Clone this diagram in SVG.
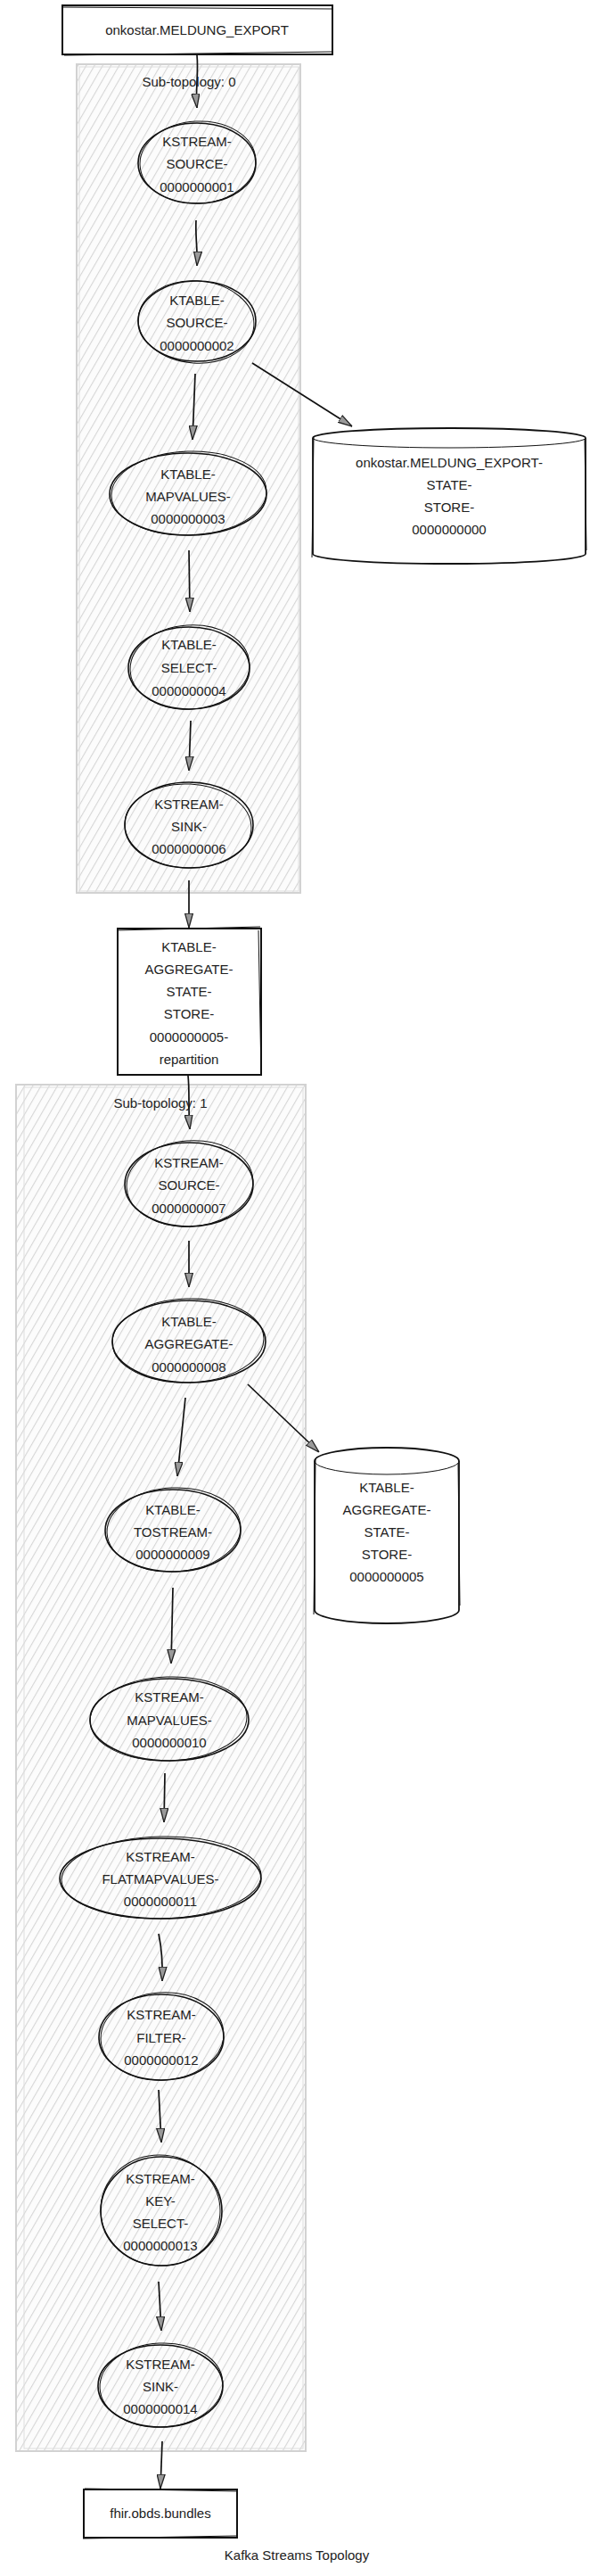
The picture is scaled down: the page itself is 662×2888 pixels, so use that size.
<svg xmlns="http://www.w3.org/2000/svg" width="662" height="2888" viewBox="0 0 662 2888">
<style>
text{font-family:"Liberation Sans",Arial,sans-serif;font-size:15px;fill:#222;text-anchor:middle}
.cl{fill:url(#hach);stroke:#d2d2d2;stroke-width:2}
.cl2{fill:none;stroke:#dedede;stroke-width:1}
.nd{fill:none;stroke:#111;stroke-width:1.6}
.nd2{fill:none;stroke:#111;stroke-width:1}
.box{fill:#fff;stroke:#111;stroke-width:2}
.cyl{fill:#fff;stroke:#111;stroke-width:1.8}
.ed{fill:none;stroke:#111;stroke-width:1.7;marker-end:url(#arr)}
</style>
<defs>
<pattern id="hach" patternUnits="userSpaceOnUse" width="8" height="8" patternTransform="rotate(30)">
<rect width="8" height="8" fill="#fcfcfc"/>
<line x1="0" y1="0" x2="0" y2="8" stroke="#d6d6d6" stroke-width="2.2"/>
</pattern>
<marker id="arr" viewBox="0 0 16 10" refX="16" refY="5" markerWidth="16" markerHeight="10" markerUnits="userSpaceOnUse" orient="auto">
<path d="M0,0.5 L16,5 L0,9.5 Z" fill="#999" stroke="#222" stroke-width="1.3"/>
</marker>
</defs>
<rect width="662" height="2888" fill="#fff"/>

<g id="cluster0">
<rect class="cl" x="86" y="72" width="251" height="929"/>
<rect class="cl2" x="89" y="75" width="246" height="924"/>
<text x="212" y="97">Sub-topology: 0</text>
</g>
<g id="cluster1">
<rect class="cl" x="18" y="1216" width="325" height="1532"/>
<rect class="cl2" x="27" y="1219" width="313" height="1526"/>
<text x="180" y="1242">Sub-topology: 1</text>
</g>

<g id="topic-onkostar-meldung-export">
<rect class="box" x="70" y="6" width="303" height="55"/>
<path class="nd2" d="M69,8 L374,10 M72,62 L372,58"/>
<text x="221" y="39">onkostar.MELDUNG_EXPORT</text>
</g>

<g id="KSTREAM-SOURCE-0000000001">
<ellipse class="nd" cx="221" cy="183" rx="66" ry="45"/>
<ellipse class="nd2" cx="222" cy="182" rx="65" ry="46" transform="rotate(-3 222 182)"/>
<text x="221" y="164">KSTREAM-</text>
<text x="221" y="189">SOURCE-</text>
<text x="221" y="215">0000000001</text>
</g>

<g id="KTABLE-SOURCE-0000000002">
<ellipse class="nd" cx="221" cy="360" rx="66" ry="45"/>
<ellipse class="nd2" cx="220" cy="361" rx="65" ry="46" transform="rotate(4 220 361)"/>
<text x="221" y="342">KTABLE-</text>
<text x="221" y="367">SOURCE-</text>
<text x="221" y="393">0000000002</text>
</g>

<g id="store-onkostar-meldung-export-state-store">
<path class="cyl" d="M351,491 A153,11 0 0 1 657,491 L657,621 A153,11 0 0 1 351,621 Z"/>
<path class="nd2" d="M351,491 A153,11 0 0 0 657,491"/>
<path class="nd2" d="M352,489 L350,625 M656,492 L658,617"/>
<text x="504" y="524">onkostar.MELDUNG_EXPORT-</text>
<text x="504" y="549">STATE-</text>
<text x="504" y="574">STORE-</text>
<text x="504" y="599">0000000000</text>
</g>

<g id="KTABLE-MAPVALUES-0000000003">
<ellipse class="nd" cx="211" cy="554" rx="88" ry="46"/>
<ellipse class="nd2" cx="212" cy="553" rx="87" ry="47" transform="rotate(-2 212 553)"/>
<text x="211" y="537">KTABLE-</text>
<text x="211" y="562">MAPVALUES-</text>
<text x="211" y="587">0000000003</text>
</g>

<g id="KTABLE-SELECT-0000000004">
<ellipse class="nd" cx="212" cy="749" rx="68" ry="46"/>
<ellipse class="nd2" cx="213" cy="748" rx="67" ry="47" transform="rotate(-4 213 748)"/>
<text x="212" y="728">KTABLE-</text>
<text x="212" y="754">SELECT-</text>
<text x="212" y="780">0000000004</text>
</g>

<g id="KSTREAM-SINK-0000000006">
<ellipse class="nd" cx="212" cy="925" rx="72" ry="48"/>
<ellipse class="nd2" cx="211" cy="926" rx="71" ry="47" transform="rotate(3 211 926)"/>
<text x="212" y="907">KSTREAM-</text>
<text x="212" y="932">SINK-</text>
<text x="212" y="957">0000000006</text>
</g>

<g id="topic-ktable-aggregate-state-store-repartition">
<rect class="box" x="132" y="1041" width="161" height="164"/>
<path class="nd2" d="M131,1043 L292,1039 M290,1043 L293,1206"/>
<text x="212" y="1067">KTABLE-</text>
<text x="212" y="1092">AGGREGATE-</text>
<text x="212" y="1117">STATE-</text>
<text x="212" y="1142">STORE-</text>
<text x="212" y="1168">0000000005-</text>
<text x="212" y="1193">repartition</text>
</g>

<g id="KSTREAM-SOURCE-0000000007">
<ellipse class="nd" cx="212" cy="1328" rx="72" ry="47"/>
<ellipse class="nd2" cx="213" cy="1327" rx="71" ry="48" transform="rotate(-4 213 1327)"/>
<text x="212" y="1309">KSTREAM-</text>
<text x="212" y="1334">SOURCE-</text>
<text x="212" y="1360">0000000007</text>
</g>

<g id="KTABLE-AGGREGATE-0000000008">
<ellipse class="nd" cx="212" cy="1504" rx="86" ry="46"/>
<ellipse class="nd2" cx="211" cy="1503" rx="85" ry="47" transform="rotate(-2 211 1503)"/>
<text x="212" y="1487">KTABLE-</text>
<text x="212" y="1512">AGGREGATE-</text>
<text x="212" y="1538">0000000008</text>
</g>

<g id="store-ktable-aggregate-state-store">
<path class="cyl" d="M353,1638 A81,15 0 0 1 515,1638 L515,1805 A81,15 0 0 1 353,1805 Z"/>
<path class="nd2" d="M353,1638 A81,15 0 0 0 515,1638"/>
<path class="nd2" d="M354,1636 L352,1810 M514,1640 L516,1800"/>
<text x="434" y="1673">KTABLE-</text>
<text x="434" y="1698">AGGREGATE-</text>
<text x="434" y="1723">STATE-</text>
<text x="434" y="1748">STORE-</text>
<text x="434" y="1773">0000000005</text>
</g>

<g id="KTABLE-TOSTREAM-0000000009">
<ellipse class="nd" cx="194" cy="1716" rx="76" ry="46"/>
<ellipse class="nd2" cx="195" cy="1715" rx="75" ry="47" transform="rotate(-3 195 1715)"/>
<text x="194" y="1698">KTABLE-</text>
<text x="194" y="1723">TOSTREAM-</text>
<text x="194" y="1748">0000000009</text>
</g>

<g id="KSTREAM-MAPVALUES-0000000010">
<ellipse class="nd" cx="190" cy="1928" rx="89" ry="46"/>
<ellipse class="nd2" cx="189" cy="1927" rx="88" ry="47" transform="rotate(-2 189 1927)"/>
<text x="190" y="1908">KSTREAM-</text>
<text x="190" y="1934">MAPVALUES-</text>
<text x="190" y="1959">0000000010</text>
</g>

<g id="KSTREAM-FLATMAPVALUES-0000000011">
<ellipse class="nd" cx="180" cy="2106" rx="113" ry="45"/>
<ellipse class="nd2" cx="181" cy="2105" rx="112" ry="46" transform="rotate(-1.5 181 2105)"/>
<text x="180" y="2087">KSTREAM-</text>
<text x="180" y="2112">FLATMAPVALUES-</text>
<text x="180" y="2137">0000000011</text>
</g>

<g id="KSTREAM-FILTER-0000000012">
<ellipse class="nd" cx="181" cy="2284" rx="70" ry="48"/>
<ellipse class="nd2" cx="182" cy="2283" rx="69" ry="49" transform="rotate(-4 182 2283)"/>
<text x="181" y="2264">KSTREAM-</text>
<text x="181" y="2290">FILTER-</text>
<text x="181" y="2315">0000000012</text>
</g>

<g id="KSTREAM-KEY-SELECT-0000000013">
<ellipse class="nd" cx="181" cy="2479" rx="68" ry="61"/>
<ellipse class="nd2" cx="180" cy="2478" rx="67" ry="62" transform="rotate(5 180 2478)"/>
<text x="180" y="2448">KSTREAM-</text>
<text x="180" y="2473">KEY-</text>
<text x="180" y="2498">SELECT-</text>
<text x="180" y="2523">0000000013</text>
</g>

<g id="KSTREAM-SINK-0000000014">
<ellipse class="nd" cx="180" cy="2675" rx="70" ry="46"/>
<ellipse class="nd2" cx="181" cy="2674" rx="69" ry="47" transform="rotate(-3 181 2674)"/>
<text x="180" y="2656">KSTREAM-</text>
<text x="180" y="2681">SINK-</text>
<text x="180" y="2706">0000000014</text>
</g>

<g id="topic-fhir-obds-bundles">
<rect class="box" x="94" y="2791" width="172" height="54"/>
<path class="nd2" d="M95,2790 L266,2793 M93,2846 L265,2843"/>
<text x="180" y="2823">fhir.obds.bundles</text>
</g>

<g id="connectors">
<path class="ed" d="M221,62 C223,82 219,102 221,121"/>
<path class="ed" d="M220,247 C219,265 222,282 221,298"/>
<path class="ed" d="M219,419 L216,493"/>
<path class="ed" d="M283,407 L395,478"/>
<path class="ed" d="M212,617 L213,686"/>
<path class="ed" d="M214,808 L212,864"/>
<path class="ed" d="M212,987 L212,1040"/>
<path class="ed" d="M211,1206 C213,1225 211,1245 213,1266"/>
<path class="ed" d="M212,1391 L212,1443"/>
<path class="ed" d="M208,1567 L199,1655"/>
<path class="ed" d="M278,1552 L358,1628"/>
<path class="ed" d="M194,1780 L192,1865"/>
<path class="ed" d="M185,1988 L184,2043"/>
<path class="ed" d="M178,2168 Q183,2192 182,2221"/>
<path class="ed" d="M178,2343 L181,2402"/>
<path class="ed" d="M178,2558 L181,2613"/>
<path class="ed" d="M182,2737 L180,2790"/>
</g>

<text x="333" y="2870">Kafka Streams Topology</text>
</svg>
